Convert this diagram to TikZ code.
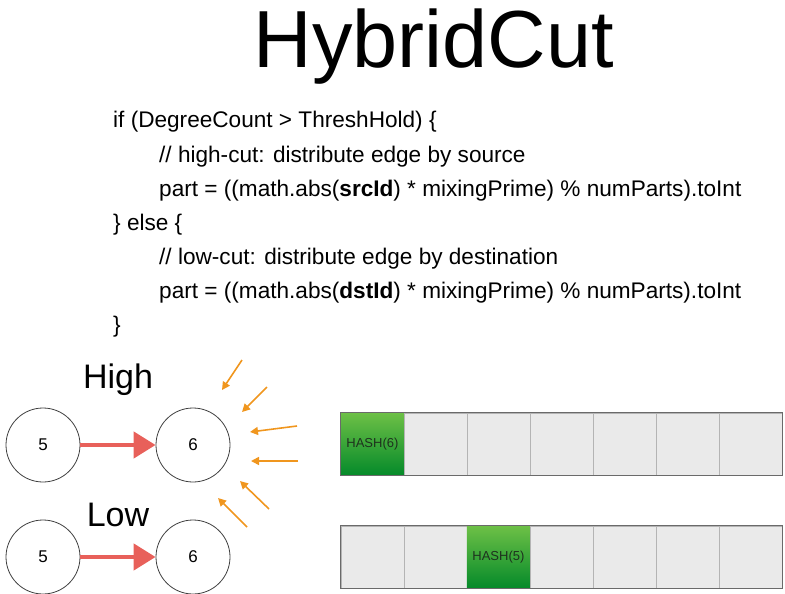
\documentclass[tikz,border=0pt]{standalone}
\usepackage{fontspec}
\setmainfont{Liberation Sans}
\usetikzlibrary{arrows.meta}
\definecolor{redarr}{HTML}{E8605A}
\definecolor{orarr}{HTML}{F0961E}
\definecolor{cellgray}{HTML}{EAEAEA}
\definecolor{cellline}{HTML}{B4B4B4}
\definecolor{barborder}{HTML}{6A6A6A}
\definecolor{gtop}{HTML}{6DC046}
\definecolor{gbot}{HTML}{058A2A}
\definecolor{hashtext}{HTML}{1E321E}
\tikzset{
  codeline/.style={anchor=base west, inner sep=0pt, font=\fontsize{22.6}{26}\selectfont},
  vertex/.style={circle, draw=black!75, line width=0.8pt, minimum size=74pt, inner sep=0pt, font=\fontsize{17}{20}\selectfont},
  bigedge/.style={draw=redarr, line width=4.5pt, -{Triangle[length=22pt,width=26pt]}},
  inarrow/.style={draw=orarr, line width=1.6pt, -{Triangle[length=8pt,width=8pt]}},
  cell/.style={draw=cellline, fill=cellgray, line width=0.8pt, minimum width=63pt, minimum height=62pt, inner sep=0pt, anchor=north west},
  hashcell/.style={cell, draw=none, top color=gtop, bottom color=gbot, text=hashtext, font=\fontsize{13}{15}\selectfont},
  barframe/.style={draw=barborder, line width=1.2pt},
  label/.style={anchor=base, inner sep=0pt, font=\fontsize{34}{38}\selectfont}
}
\begin{document}
\begin{tikzpicture}[x=1pt,y=-1pt]
\useasboundingbox (0,0) rectangle (785,594);
% title
\node[anchor=base, inner sep=0pt, font=\fontsize{81}{90}\selectfont] (title) at (434,67) {HybridCut};
% code
\node[codeline] (c1) at (113,128) {if (DegreeCount > ThreshHold) \{};
\node[codeline] (c2) at (159,162) {// high-cut: distribute edge by source};
\node[codeline] (c3) at (159,196) {part = ((math.abs(\textbf{srcId}) * mixingPrime) \% numParts).toInt};
\node[codeline] (c4) at (113,230) {\} else \{};
\node[codeline] (c5) at (159,264) {// low-cut: distribute edge by destination};
\node[codeline] (c6) at (159,298) {part = ((math.abs(\textbf{dstId}) * mixingPrime) \% numParts).toInt};
\node[codeline] (c7) at (113,332) {\}};
% labels
\node[label] (high) at (118,388) {High};
\node[label] (low) at (118,526) {Low};
% vertices
\node[vertex] (h5) at (43,445) {5};
\node[vertex] (h6) at (193,445) {6};
\node[vertex] (l5) at (43,557) {5};
\node[vertex] (l6) at (193,557) {6};
\draw[bigedge] (h5) -- (h6);
\draw[bigedge] (l5) -- (l6);
% incoming orange arrows
\coordinate (a1s) at (242,360); \coordinate (a1e) at (222,390);
\coordinate (a2s) at (267,387); \coordinate (a2e) at (242,412);
\coordinate (a3s) at (297,426); \coordinate (a3e) at (250,432);
\coordinate (a4s) at (298,461); \coordinate (a4e) at (251,461);
\coordinate (a5s) at (269,509); \coordinate (a5e) at (240,481);
\coordinate (a6s) at (247,527); \coordinate (a6e) at (218,498);
\foreach \i in {1,...,6} { \draw[inarrow] (a\i s) -- (a\i e); }
% top bar
\node[hashcell] (t1) at (340.5,412.5) {HASH(6)};
\node[cell] (t2) at (403.5,412.5) {};
\node[cell] (t3) at (466.5,412.5) {};
\node[cell] (t4) at (529.5,412.5) {};
\node[cell] (t5) at (592.5,412.5) {};
\node[cell] (t6) at (655.5,412.5) {};
\node[cell] (t7) at (718.5,412.5) {};
\draw[barframe] (t1.north west) rectangle (t7.south east);
% bottom bar
\node[cell] (b1) at (340.5,525.5) {};
\node[cell] (b2) at (403.5,525.5) {};
\node[hashcell] (b3) at (466.5,525.5) {HASH(5)};
\node[cell] (b4) at (529.5,525.5) {};
\node[cell] (b5) at (592.5,525.5) {};
\node[cell] (b6) at (655.5,525.5) {};
\node[cell] (b7) at (718.5,525.5) {};
\draw[barframe] (b1.north west) rectangle (b7.south east);
\end{tikzpicture}
\end{document}
